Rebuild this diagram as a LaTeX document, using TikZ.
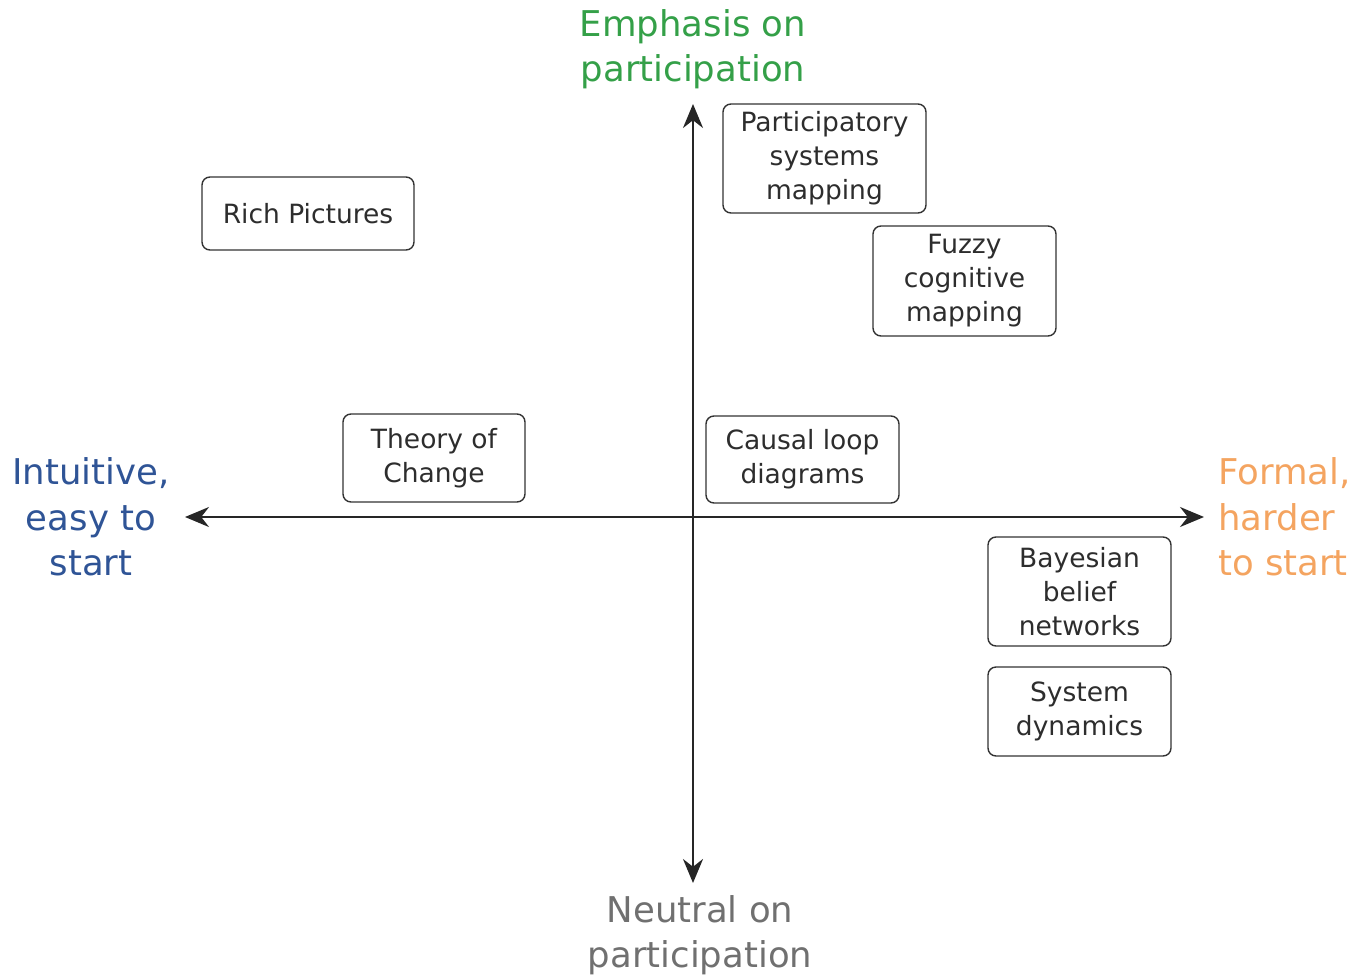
\documentclass[tikz,border=0pt]{standalone}
\usepackage{fontspec}
\setmainfont{DejaVu Sans}
\usetikzlibrary{arrows.meta}
\definecolor{boxtext}{RGB}{45,45,45}
\definecolor{axgreen}{RGB}{52,160,72}
\definecolor{axblue}{RGB}{47,84,150}
\definecolor{axorange}{RGB}{244,164,96}
\definecolor{axgrey}{RGB}{112,112,112}
\tikzset{
  method/.style={draw=black!80, line width=1.4pt, rounded corners=8pt, align=center,
    text=boxtext, inner sep=0pt, font=\fontsize{26.5}{34}\selectfont},
  axislabel/.style={align=center, inner sep=0pt, font=\fontsize{35.5}{45.5}\selectfont},
  axisline/.style={line width=2.4pt, draw=black!85, -{Stealth[length=24pt,width=20pt]}}
}
\begin{document}
\begin{tikzpicture}[x=1pt,y=-1pt]
\useasboundingbox (0,0) rectangle (1371,977);
\coordinate (c) at (693,517);
\coordinate (top) at (693,104);
\coordinate (bot) at (693,883);
\coordinate (left) at (185,517);
\coordinate (right) at (1204,517);
\draw[axisline] (c) -- (top);
\draw[axisline] (c) -- (bot);
\draw[axisline] (c) -- (left);
\draw[axisline] (c) -- (right);

\node[method, minimum width=203pt, minimum height=109pt] (psm) at (824.5,158.5) {Participatory\\systems\\mapping};
\node[method, minimum width=183pt, minimum height=110pt] (fcm) at (964.5,281) {Fuzzy\\cognitive\\mapping};
\node[method, minimum width=212pt, minimum height=73pt] (rp) at (308,213.5) {Rich Pictures};
\node[method, minimum width=182pt, minimum height=88pt] (toc) at (434,458) {Theory of\\Change};
\node[method, minimum width=193pt, minimum height=87pt] (cld) at (802.5,459.5) {Causal loop\\diagrams};
\node[method, minimum width=183pt, minimum height=109pt] (bbn) at (1079.5,591.5) {Bayesian\\belief\\networks};
\node[method, minimum width=183pt, minimum height=89pt] (sd) at (1079.5,711.5) {System\\dynamics};

\node[axislabel, text=axgreen] (emph) at (693,49) {Emphasis on\\participation};
\node[axislabel, text=axblue] (intu) at (91,517) {Intuitive,\\easy to\\start};
\node[axislabel, text=axorange, align=left, anchor=west] (form) at (1218,517) {Formal,\\harder\\to start};
\node[axislabel, text=axgrey] (neut) at (700,935) {Neutral on\\participation};
\end{tikzpicture}
\end{document}
